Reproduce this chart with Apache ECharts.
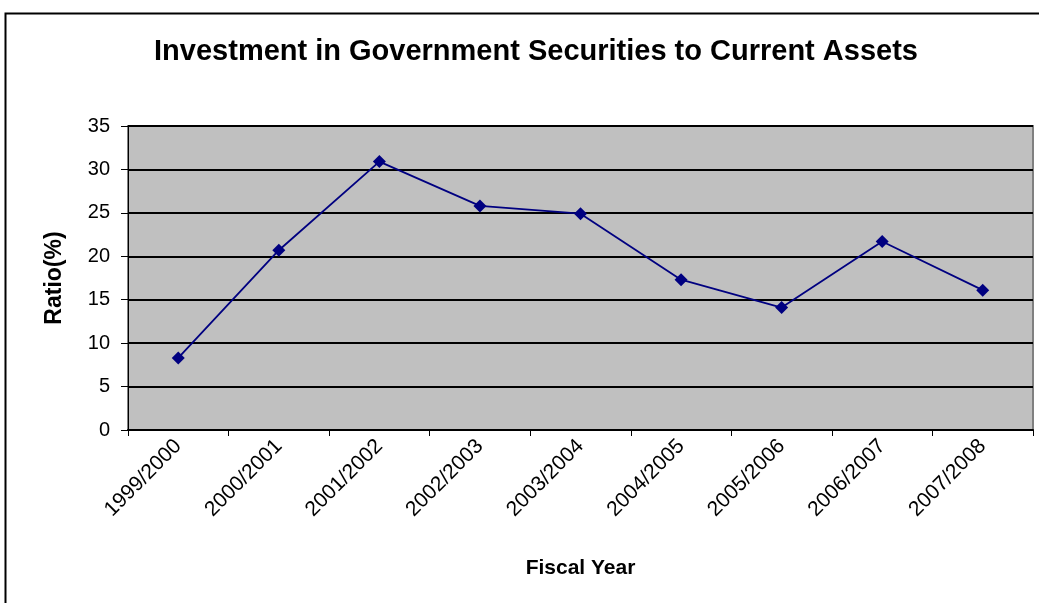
<!DOCTYPE html>
<html>
<head>
<meta charset="utf-8">
<script src="https://cdn.jsdelivr.net/npm/echarts@6/dist/echarts.min.js"></script>
<style>
  html, body { margin: 0; padding: 0; background: #fff; }
  #chart { width: 1039px; height: 603px; }
</style>
</head>
<body>
<div id="chart"></div>
<script>
// Fiscal years on the category axis
const fiscalYears = ['1999/2000', '2000/2001', '2001/2002', '2002/2003', '2003/2004',
                     '2004/2005', '2005/2006', '2006/2007', '2007/2008'];
// Investment in government securities as a share of current assets (%)
const ratioValues = [8.3, 20.7, 30.9, 25.8, 24.9, 17.3, 14.1, 21.7, 16.1];
// Value axis range
const yMin = 0, yMax = 35, yStep = 5;

const FONT = '"Liberation Sans", Arial, sans-serif';

const chart = echarts.init(document.getElementById('chart'), null, { renderer: 'canvas' });
chart.setOption({
  animation: false,
  backgroundColor: '#ffffff',
  graphic: [{
    type: 'rect',
    shape: { x: 5.5, y: 13.5, width: 1100, height: 700 },
    style: { fill: 'none', stroke: '#000', lineWidth: 2 },
    silent: true
  }],
  title: {
    text: 'Investment in Government Securities to Current Assets',
    left: 531,
    textAlign: 'center',
    top: 32,
    textStyle: { fontFamily: FONT, fontWeight: 'bold', fontSize: 29, color: '#000' }
  },
  grid: {
    left: 128, right: 6, top: 126, bottom: 173,
    show: true, backgroundColor: '#c0c0c0', borderColor: '#808080', borderWidth: 2
  },
  xAxis: {
    type: 'category',
    data: fiscalYears,
    boundaryGap: true,
    name: 'Fiscal Year',
    nameLocation: 'middle',
    nameGap: 128,
    nameTextStyle: { fontFamily: FONT, fontWeight: 'bold', fontSize: 21, color: '#000' },
    axisLine: { lineStyle: { color: '#000', width: 2 } },
    axisTick: { show: true, alignWithLabel: false, length: 6, lineStyle: { color: '#000', width: 1 } },
    axisLabel: { rotate: 45, margin: 13, fontFamily: FONT, fontSize: 21, color: '#000', interval: 0 },
    splitLine: { show: false }
  },
  yAxis: {
    type: 'value',
    min: yMin, max: yMax, interval: yStep,
    name: 'Ratio(%)',
    nameLocation: 'middle',
    nameGap: 62,
    nameRotate: 90,
    nameTextStyle: { fontFamily: FONT, fontWeight: 'bold', fontSize: 23, color: '#000' },
    axisLine: { show: true, lineStyle: { color: '#000', width: 1 } },
    axisTick: { show: true, length: 7, lineStyle: { color: '#000', width: 1 } },
    axisLabel: { margin: 18, fontFamily: FONT, fontSize: 20, color: '#000' },
    splitLine: { show: true, lineStyle: { color: '#000', width: 2 } }
  },
  series: [{
    type: 'line',
    data: ratioValues,
    symbol: 'diamond',
    symbolSize: 13,
    lineStyle: { color: '#000080', width: 1.8 },
    itemStyle: { color: '#000080' }
  }]
});
</script>
</body>
</html>
